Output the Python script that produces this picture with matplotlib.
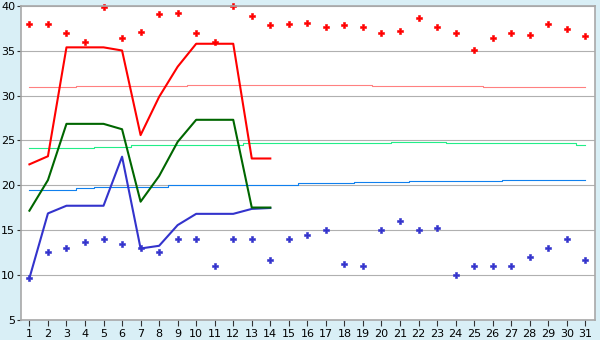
import numpy as np
import matplotlib
matplotlib.use('Agg')
import matplotlib.pyplot as plt

# days of the month
days = list(range(1, 32))

# record highs / lows (scatter points)
rec_high = [37.9, 38.0, 37.0, 36.0, 39.8, 36.35, 37.1, 39.1, 39.2, 37.0, 35.9, 40.0, 38.8, 37.8, 38.0,
            38.1, 37.6, 37.8, 37.6, 37.0, 37.2, 38.6, 37.6, 37.0, 35.1, 36.35, 37.0, 36.7, 38.0, 37.35, 36.6]
rec_low = [9.7, 12.6, 13.0, 13.7, 14.1, 13.5, 13.0, 12.6, 14.0, 14.0, 11.0, 14.0, 14.0, 11.7, 14.0,
           14.45, 15.0, 11.25, 11.0, 15.0, 16.0, 15.0, 15.25, 10.0, 11.0, 11.0, 11.0, 12.0, 13.0, 14.0, 11.7]

# normals (stepped thin lines)
norm_high = [31.0, 31.0, 31.0, 31.1, 31.1, 31.1, 31.1, 31.1, 31.1, 31.2, 31.2, 31.2, 31.2, 31.2, 31.2, 31.2,
             31.2, 31.2, 31.2, 31.1, 31.1, 31.1, 31.1, 31.1, 31.1, 31.0, 31.0, 31.0, 31.0, 31.0, 31.0]
norm_mean = [24.2, 24.2, 24.2, 24.2, 24.3, 24.3, 24.45, 24.45, 24.45, 24.55, 24.55, 24.55, 24.7, 24.7, 24.7,
             24.7, 24.7, 24.7, 24.7, 24.7, 24.8, 24.8, 24.8, 24.7, 24.7, 24.7, 24.7, 24.7, 24.7, 24.7, 24.55]
norm_low = [19.5, 19.5, 19.5, 19.7, 19.8, 19.8, 19.8, 19.8, 20.0, 20.0, 20.0, 20.0, 20.1, 20.1, 20.1, 20.25,
            20.25, 20.25, 20.35, 20.35, 20.35, 20.45, 20.45, 20.45, 20.45, 20.45, 20.6, 20.6, 20.6, 20.6, 20.6]

# observed values for the first 14 days
obs_days = days[:14]
obs_high = [22.35, 23.25, 35.35, 35.35, 35.35, 35.0, 25.6, 29.85, 33.2, 35.75, 35.75, 35.75, 23.0, 23.0]
obs_mean = [17.2, 20.6, 26.85, 26.85, 26.85, 26.25, 18.2, 21.05, 24.85, 27.3, 27.3, 27.3, 17.55, 17.55]
obs_low = [9.7, 16.9, 17.75, 17.75, 17.75, 23.2, 13.0, 13.3, 15.6, 16.85, 16.85, 16.85, 17.4, 17.5]

fig = plt.figure(figsize=(6, 3.4), dpi=100, facecolor='#d9eff6')
ax = fig.add_axes([0.0345, 0.0574, 0.9577, 0.9264])
ax.set_facecolor('white')

ax.plot(days, norm_high, color='#ff8080', lw=0.8, drawstyle='steps-mid')
ax.plot(days, norm_mean, color='#22ee88', lw=0.8, drawstyle='steps-mid')
ax.plot(days, norm_low, color='#1080ee', lw=0.8, drawstyle='steps-mid')

ax.plot(obs_days, obs_high, color='#ff0000', lw=1.5)
ax.plot(obs_days, obs_low, color='#3333cc', lw=1.5)
ax.plot(obs_days, obs_mean, color='#006600', lw=1.5)

ax.plot(days, rec_high, 'P', color='#ff0000', ms=4, mew=0.4, clip_on=False)
ax.plot(days, rec_low, 'P', color='#3333cc', ms=4, mew=0.4, clip_on=False)

ax.set_xlim(0.53, 31.54)
ax.set_ylim(5, 40)
ax.set_xticks(days)
ax.set_yticks(range(5, 41, 5))
ax.yaxis.grid(True, color='#b0b0b0', lw=0.8)
ax.set_axisbelow(True)
for s in ax.spines.values():
    s.set_color('#a8a8a8')
    s.set_linewidth(1.2)
ax.tick_params(axis='x', length=4, width=0.8, color='#333333', labelsize=8, pad=2)
ax.tick_params(axis='y', length=3, width=0.8, color='#333333', labelsize=8, pad=1)

fig.savefig('out.png', dpi=100, facecolor=fig.get_facecolor())
